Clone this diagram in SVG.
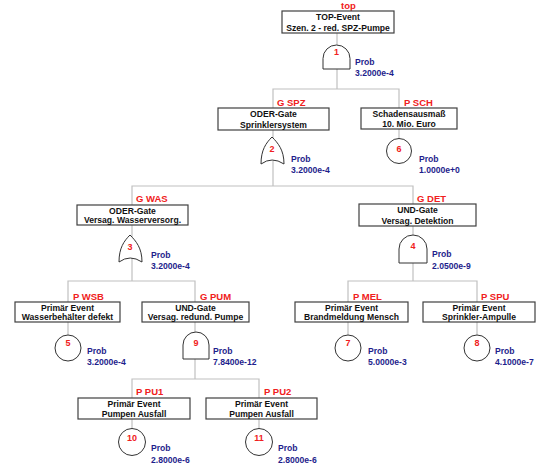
<svg xmlns="http://www.w3.org/2000/svg" width="538" height="466" viewBox="0 0 538 466">
<style>
text{font-family:"Liberation Sans",Arial,sans-serif;font-weight:bold}
.bx{fill:#fff;stroke:#404040;stroke-width:1.2}
.t{font-size:8.6px;fill:#111;text-anchor:middle}
.lb{font-size:9.5px;fill:#f02020}
.n{font-size:9px;fill:#f02020;text-anchor:middle}
.p{font-size:8.6px;fill:#1e1e8c}
.g{fill:#fff;stroke:#333;stroke-width:1}
.c line,.c polyline{stroke:#c0c0c0;stroke-width:1.2;fill:none}
</style>
<rect width="538" height="466" fill="#fff"/>
<g id="connectors" class="c">
<line x1="337" y1="33" x2="337" y2="89"/>
<polyline points="273,108 273,89 399,89 399,108"/>
<line x1="273" y1="130" x2="273" y2="186"/>
<line x1="399" y1="129" x2="399" y2="150"/>
<polyline points="132,205 132,186 413,186 413,204"/>
<line x1="132" y1="225" x2="132" y2="281"/>
<line x1="413" y1="226" x2="413" y2="281"/>
<polyline points="68,302 68,281 195,281 195,302"/>
<polyline points="348,302 348,281 477,281 477,302"/>
<line x1="68" y1="322" x2="68" y2="348"/>
<line x1="195" y1="322" x2="195" y2="379"/>
<line x1="348" y1="322" x2="348" y2="348"/>
<line x1="477" y1="322" x2="477" y2="348"/>
<polyline points="132,398 132,379 259,379 259,398"/>
<line x1="132" y1="419" x2="132" y2="442"/>
<line x1="259" y1="419" x2="259" y2="442"/>
</g>
<g id="top">
<text class="lb" x="341" y="9">top</text>
<rect class="bx" x="282" y="11" width="112" height="22"/>
<text class="t" x="338" y="20">TOP-Event</text>
<text class="t" x="338" y="30.5">Szen. 2 - red. SPZ-Pumpe</text>
<path class="g" d="M323,69 V58.5 A13.5,13.5 0 0 1 350,58.5 V69 Z"/>
<text class="n" x="336.5" y="55">1</text>
<text class="p" x="355" y="65">Prob</text>
<text class="p" x="355" y="76">3.2000e-4</text>
</g>
<g id="gspz">
<text class="lb" x="277" y="106">G SPZ</text>
<rect class="bx" x="218" y="108" width="111" height="22"/>
<text class="t" x="273.5" y="117">ODER-Gate</text>
<text class="t" x="273.5" y="127.5">Sprinklersystem</text>
<path class="g" d="M261,164 C261,150 266,143 272,137 C278,143 284,150 284,164 Q272,156 261,164 Z"/>
<text class="n" x="272" y="152">2</text>
<text class="p" x="291" y="162">Prob</text>
<text class="p" x="291" y="173">3.2000e-4</text>
</g>
<g id="psch">
<text class="lb" x="404" y="106">P SCH</text>
<rect class="bx" x="361" y="108" width="96" height="21"/>
<text class="t" x="409" y="117">Schadensausmaß</text>
<text class="t" x="409" y="127">10. Mio. Euro</text>
<circle class="g" cx="399" cy="151" r="12.5"/>
<text class="n" x="399" y="152">6</text>
<text class="p" x="419" y="162">Prob</text>
<text class="p" x="419" y="173">1.0000e+0</text>
</g>
<g id="gwas">
<text class="lb" x="136" y="202">G WAS</text>
<rect class="bx" x="77" y="205" width="111" height="20"/>
<text class="t" x="132.5" y="213.5">ODER-Gate</text>
<text class="t" x="132.5" y="223">Versag. Wasserversorg.</text>
<path class="g" d="M119,262 C119,248 124,241 130,235 C136,241 142,248 142,262 Q130,254 119,262 Z"/>
<text class="n" x="130" y="250">3</text>
<text class="p" x="151" y="258">Prob</text>
<text class="p" x="151" y="269">3.2000e-4</text>
</g>
<g id="gdet">
<text class="lb" x="417" y="202">G DET</text>
<rect class="bx" x="359" y="204" width="117" height="22"/>
<text class="t" x="417.5" y="213">UND-Gate</text>
<text class="t" x="417.5" y="223.5">Versag. Detektion</text>
<path class="g" d="M399,263 V249 A14,14 0 0 1 427,249 V263 Z"/>
<text class="n" x="413" y="249">4</text>
<text class="p" x="432" y="257">Prob</text>
<text class="p" x="432" y="269">2.0500e-9</text>
</g>
<g id="pwsb">
<text class="lb" x="73" y="300">P WSB</text>
<rect class="bx" x="15" y="302" width="105" height="20"/>
<text class="t" x="67.5" y="310.5">Primär Event</text>
<text class="t" x="67.5" y="320">Wasserbehälter defekt</text>
<circle class="g" cx="68" cy="348" r="13"/>
<text class="n" x="68" y="346">5</text>
<text class="p" x="87" y="354">Prob</text>
<text class="p" x="87" y="365">3.2000e-4</text>
</g>
<g id="gpum">
<text class="lb" x="200" y="300">G PUM</text>
<rect class="bx" x="142" y="302" width="107" height="20"/>
<text class="t" x="195.5" y="310.5">UND-Gate</text>
<text class="t" x="195.5" y="320">Versag. redund. Pumpe</text>
<path class="g" d="M183,359 V345 A13,13 0 0 1 209,345 V359 Z"/>
<text class="n" x="196" y="346">9</text>
<text class="p" x="213" y="354">Prob</text>
<text class="p" x="213" y="365">7.8400e-12</text>
</g>
<g id="pmel">
<text class="lb" x="353" y="300">P MEL</text>
<rect class="bx" x="295" y="302" width="113" height="20"/>
<text class="t" x="351.5" y="310.5">Primär Event</text>
<text class="t" x="351.5" y="320">Brandmeldung Mensch</text>
<circle class="g" cx="348" cy="348" r="13"/>
<text class="n" x="348" y="346">7</text>
<text class="p" x="368" y="354">Prob</text>
<text class="p" x="368" y="365">5.0000e-3</text>
</g>
<g id="pspu">
<text class="lb" x="481" y="300">P SPU</text>
<rect class="bx" x="423" y="302" width="112" height="20"/>
<text class="t" x="479" y="310.5">Primär Event</text>
<text class="t" x="479" y="320">Sprinkler-Ampulle</text>
<circle class="g" cx="477" cy="348" r="13"/>
<text class="n" x="477" y="346">8</text>
<text class="p" x="495" y="354">Prob</text>
<text class="p" x="495" y="365">4.1000e-7</text>
</g>
<g id="ppu1">
<text class="lb" x="136" y="395">P PU1</text>
<rect class="bx" x="78" y="398" width="112" height="21"/>
<text class="t" x="134" y="406.5">Primär Event</text>
<text class="t" x="134" y="416.5">Pumpen Ausfall</text>
<circle class="g" cx="132" cy="442" r="13.5"/>
<text class="n" x="132" y="441">10</text>
<text class="p" x="151" y="451">Prob</text>
<text class="p" x="151" y="463">2.8000e-6</text>
</g>
<g id="ppu2">
<text class="lb" x="264" y="395">P PU2</text>
<rect class="bx" x="206" y="398" width="111" height="21"/>
<text class="t" x="261.5" y="406.5">Primär Event</text>
<text class="t" x="261.5" y="416.5">Pumpen Ausfall</text>
<circle class="g" cx="259" cy="442" r="13.5"/>
<text class="n" x="259" y="441">11</text>
<text class="p" x="278" y="451">Prob</text>
<text class="p" x="278" y="463">2.8000e-6</text>
</g>
</svg>
